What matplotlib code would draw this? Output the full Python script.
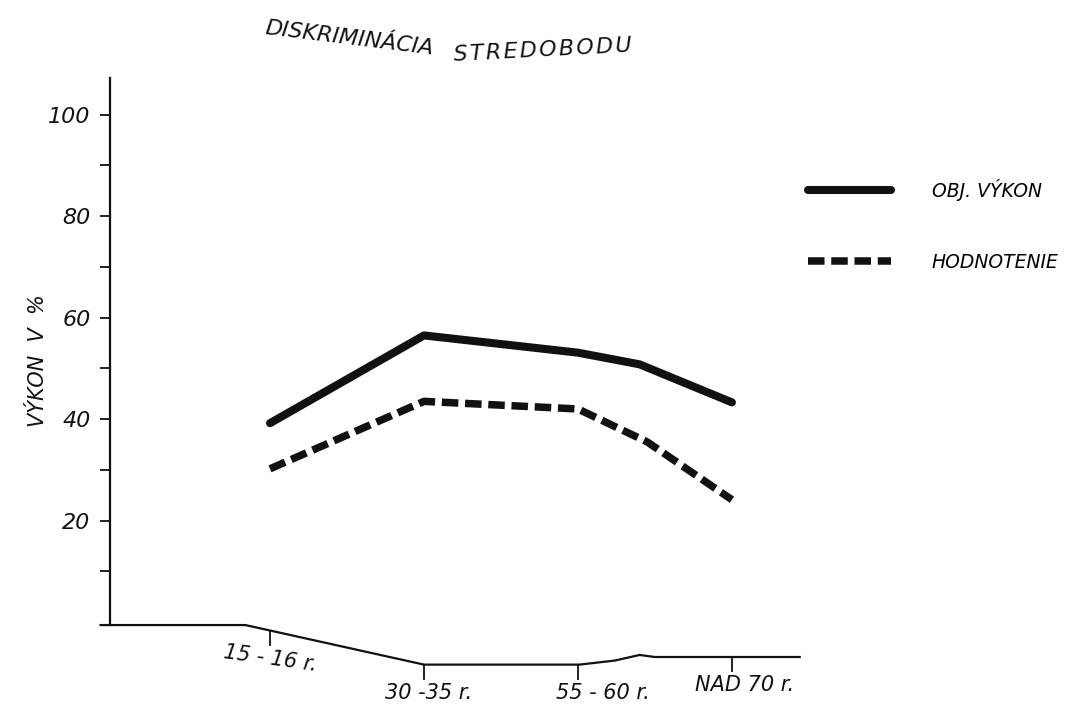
import numpy as np
import matplotlib.pyplot as plt

# údaje odčítané z grafu
kategorie = ['15 - 16 r.', '30 -35 r.', '55 - 60 r.', 'NAD 70 r.']
pozicie_kat = [0, 1, 2, 3]

obj_x = [0, 1, 2, 2.4, 3]
obj_vykon = [39.2, 56.5, 53.1, 50.8, 43.3]

hod_x = [0, 1, 2, 2.45, 3]
hodnotenie = [30.2, 43.5, 42.0, 35.5, 24.1]

# ručne kreslená os x (zvlnená)
os_x = [-1.10, -0.16, 1.0, 2.01, 2.24, 2.40, 2.50, 3.44]
os_y = [-0.6, -0.6, -8.4, -8.4, -7.6, -6.5, -6.9, -6.9]

y_ticky = [10, 20, 30, 40, 50, 60, 70, 80, 90, 100]
y_popisy = ['', '20', '', '40', '', '60', '', '80', '', '100']

farba = '#111111'
pismo = dict(family='DejaVu Sans', style='italic', color=farba)

fig = plt.figure(figsize=(10.83, 7.13), dpi=100)
ax = fig.add_axes([110 / 1083, 1 - 625 / 713, 690 / 1083, 547 / 713])
ax.set_xlim(-1.039, 3.442)
ax.set_ylim(-0.59, 107.25)

for s in ax.spines.values():
    s.set_visible(False)
ax.set_xticks([])

# os y
ax.plot([-1.039, -1.039], [-0.59, 107.25], color=farba, lw=1.6, clip_on=False)
ax.set_yticks(y_ticky)
ax.set_yticklabels(y_popisy, fontsize=16, **pismo)
ax.tick_params(axis='y', direction='out', length=7, width=1.3, color=farba, pad=7)

# os x
ax.plot(os_x, os_y, color=farba, lw=1.6, clip_on=False, solid_joinstyle='round')
zaklad = np.interp(pozicie_kat, os_x, os_y)
posun_x = [0, 0.03, 0.16, 0.08]
for xp, yb, txt, dx in zip(pozicie_kat, zaklad, kategorie, posun_x):
    ax.plot([xp, xp], [yb, yb - 2.8], color=farba, lw=1.3, clip_on=False)
    rot = -8 if xp == 0 else 0
    ax.text(xp + dx, yb - 5.6, txt, ha='center', va='center', fontsize=15,
            rotation=rot, clip_on=False, **pismo)

# krivky
ax.plot(obj_x, obj_vykon, color=farba, lw=5.8, solid_capstyle='round',
        solid_joinstyle='round', label='OBJ. VÝKON')
ax.plot(hod_x, hodnotenie, color=farba, lw=5.4, dashes=(2.2, 0.9),
        dash_capstyle='butt', label='HODNOTENIE')

ax.set_ylabel('VÝKON  V  %', fontsize=15, **pismo)
ax.yaxis.set_label_coords(-0.09, 0.484)

# nadpis
fig.text(349 / 1083, 1 - 38 / 713, 'DISKRIMINÁCIA', fontsize=16, rotation=-7,
         ha='center', va='center', **pismo)
fig.text(543 / 1083, 1 - 50 / 713, '\u200a'.join('STREDOBODU'),
         fontsize=16, rotation=3, ha='center', va='center', **pismo)

# legenda
ax.legend(loc='upper left', bbox_to_anchor=(808 / 1083, 1 - 179 / 713),
          bbox_transform=fig.transFigure, frameon=False,
          handlelength=4.4, handletextpad=2.2, labelspacing=2.75,
          borderpad=0, borderaxespad=0, prop=dict(style='italic', size=13.5))

fig.savefig('out.png', dpi=100, facecolor='white')
